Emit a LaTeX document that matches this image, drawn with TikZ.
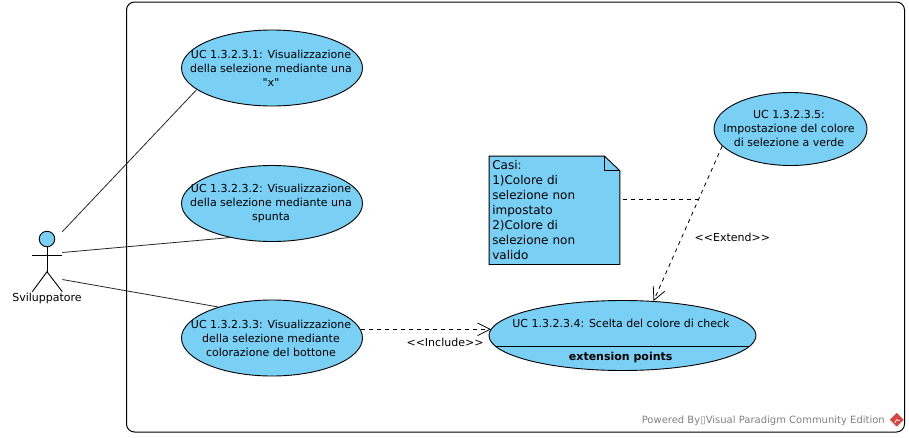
\documentclass[tikz,border=0pt]{standalone}
\usepackage{fontspec}
\setmainfont{DejaVu Sans}
\newfontfamily\ucfont{DejaVu Sans}
\usetikzlibrary{shapes.geometric,arrows.meta}
\definecolor{ucblue}{HTML}{7ACFF5}
\definecolor{vpgray}{HTML}{808080}
\definecolor{vpred}{HTML}{D8453E}
\tikzset{
  usecase/.style={ellipse,draw=black,fill=ucblue,line width=0.9pt,inner sep=0pt},
  uctext/.style={align=center,inner sep=0pt,font=\ucfont\fontsize{11}{14}\selectfont},
  assoc/.style={line width=0.8pt,black!85},
  depend/.style={line width=0.8pt,dash pattern=on 4pt off 4pt},
  openarrow/.style={-{Straight Barb[length=12.5pt,width=12.5pt,line width=0.8pt]}},
}
\begin{document}
\begin{tikzpicture}[x=1pt,y=-1pt]
 \useasboundingbox (0,0) rectangle (909,437);
 \draw[line width=1pt,rounded corners=8pt] (126.5,2) rectangle (904.5,432);

 % casi d'uso
 \node[usecase,minimum width=181pt,minimum height=76pt] at (272,68) (uc1) {};
 \node[usecase,minimum width=181pt,minimum height=76pt] at (272,203.5) (uc2) {};
 \node[usecase,minimum width=181pt,minimum height=76pt] at (272,338) (uc3) {};
 \node[usecase,minimum width=267pt,minimum height=70pt] at (622.5,335.5) (uc4) {};
 \node[usecase,minimum width=153pt,minimum height=73pt] at (790.5,129) (uc5) {};
 \node[uctext] at (271,68) (uc1text) {UC 1.3.2.3.1: Visualizzazione\\della selezione mediante una\\"x"};
 \node[uctext] at (271,203.5) (uc2text) {UC 1.3.2.3.2: Visualizzazione\\della selezione mediante una\\spunta};
 \node[uctext] at (271,338) (uc3text) {UC 1.3.2.3.3: Visualizzazione\\della selezione mediante\\colorazione del bottone};
 \node[uctext] at (789,128.5) (uc5text) {UC 1.3.2.3.5:\\Impostazione del colore\\di selezione a verde};
 \node[uctext] at (621,323) (uc4text) {UC 1.3.2.3.4: Scelta del colore di check};
 \node[uctext,font=\ucfont\fontsize{11}{14}\selectfont\bfseries] at (620.7,357) (uc4ext) {extension points};
 \draw[line width=0.9pt] ([xshift=7pt,yshift=-10.8pt]uc4.west) -- ([xshift=-7.5pt,yshift=-10.8pt]uc4.east);

 % attore
 \node[circle,draw=black,fill=ucblue,line width=0.9pt,minimum size=15.5pt,inner sep=0pt] at (47,239) (head) {};
 \coordinate (hip) at (47,271.7);
 \coordinate (armL) at (32.3,255);
 \coordinate (armR) at (62.3,255);
 \coordinate (legL) at (32.3,291.7);
 \coordinate (legR) at (62.3,291.7);
 \draw[line width=0.9pt] (head) -- (hip);
 \draw[line width=0.9pt] (armL) -- (armR);
 \draw[line width=0.9pt] (legL) -- (hip) -- (legR);
 \node[uctext] at (47,298) (actor) {Sviluppatore};

 % associazioni
 \coordinate (a1) at (62.3,231.7);
 \coordinate (a2) at (62.3,252.5);
 \coordinate (a3) at (62.3,279.5);
 \draw[assoc] (a1) -- (uc1.196);
 \draw[assoc] (a2) -- (uc2.219.3);
 \draw[assoc] (a3) -- (uc3.150.5);

 % nota
 \node[align=left,fill=ucblue,minimum width=130.4pt,minimum height=108pt,text width=124.4pt,inner xsep=3pt,inner ysep=0pt,
   font=\ucfont\fontsize{12}{15}\selectfont] at (554.5,210.3) (note) {Casi:\\1)Colore di\\selezione non\\impostato\\2)Colore di\\selezione non\\valido};
 \fill[white] ([xshift=-15.4pt]note.north east) -- (note.north east) -- ([yshift=-14.7pt]note.north east) -- cycle;
 \draw[line width=0.9pt] (note.north west) -- ([xshift=-15.4pt]note.north east) -- ([yshift=-14.7pt]note.north east)
   -- (note.south east) -- (note.south west) -- cycle;
 \draw[line width=0.9pt] ([xshift=-15.4pt]note.north east) |- ([yshift=-14.7pt]note.north east);

 % dipendenze
 \draw[depend,openarrow] ([xshift=-2pt,yshift=8.7pt]uc3.east) -- ([xshift=2.4pt,yshift=6.2pt]uc4.west);
 \draw[depend,openarrow] (uc5.194) -- (uc4.48.2);
 \coordinate (noteend) at (699,199);
 \draw[depend] ([xshift=2.6pt]note.east |- noteend) -- (noteend);
 \node[uctext] at (445,342.5) (inc) {{<}{<}Include{>}{>}};
 \node[uctext] at (732.3,237.3) (ext) {{<}{<}Extend{>}{>}};

 % marchio
 \node[text=vpgray,inner sep=0pt,font=\ucfont\fontsize{10}{12}\selectfont,anchor=east] at (885,420.7) (powered) {Powered By▯Visual Paradigm Community Edition};
 \node[diamond,fill=vpred,minimum size=14pt,inner sep=0pt] at (896.7,419.7) (logo) {};
 \draw[white,line width=0.8pt] ([xshift=-2pt,yshift=-3pt]logo.center) -- (logo.center) -- ([xshift=3pt,yshift=-1pt]logo.center);
\end{tikzpicture}
\end{document}
